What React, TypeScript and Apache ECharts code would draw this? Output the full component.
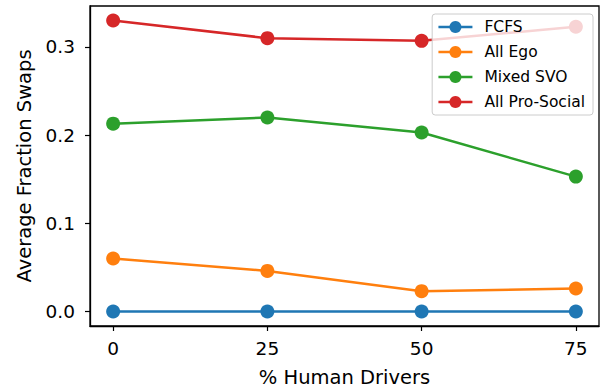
import React, { useEffect, useRef } from "react";
import * as echarts from "echarts";

const humanPct = [0, 25, 50, 75];
const xTicks = [0, 25, 50, 75];
const yTicks = [0.0, 0.1, 0.2, 0.3];
const fcfs = [0, 0, 0, 0];
const allEgo = [0.06, 0.046, 0.023, 0.026];
const mixedSvo = [0.213, 0.22, 0.203, 0.153];
const allProSocial = [0.33, 0.31, 0.307, 0.323];

const seriesDefs = [
  { name: "FCFS", data: fcfs, color: "#1f77b4" },
  { name: "All Ego", data: allEgo, color: "#ff7f0e" },
  { name: "Mixed SVO", data: mixedSvo, color: "#2ca02c" },
  { name: "All Pro-Social", data: allProSocial, color: "#d62728" },
];

const FONT = "DejaVu Sans";

export default function App() {
  const ref = useRef<HTMLDivElement>(null);
  useEffect(() => {
    if (!ref.current) return;
    const chart = echarts.init(ref.current, null, { renderer: "svg" });
    chart.setOption({
      animation: false,
      backgroundColor: "#fff",
      textStyle: { fontFamily: FONT },
      grid: {
        left: 90,
        right: 6,
        top: 6,
        bottom: 61,
        outerBoundsMode: "none",
        containLabel: false,
        show: true,
        borderColor: "#000",
        borderWidth: 1.3,
        backgroundColor: "transparent",
      },
      legend: {
        right: 12,
        top: 14,
        orient: "vertical",
        z: 10,
        itemGap: 9,
        itemWidth: 34,
        itemHeight: 15,
        padding: [5, 8, 5, 5],
        backgroundColor: "rgba(255,255,255,0.8)",
        borderColor: "#cccccc",
        borderWidth: 1,
        borderRadius: 3,
        lineStyle: { width: 2.5 },
        textStyle: { fontFamily: FONT, fontSize: 15.5, lineHeight: 15, color: "#000", padding: [0, 0, 0, 7] },
        data: seriesDefs.map((s) => s.name),
      },
      xAxis: {
        type: "value",
        min: -3.75,
        max: 78.75,
        name: "% Human Drivers",
        nameLocation: "middle",
        nameGap: 41,
        nameTextStyle: { fontFamily: FONT, fontSize: 19.5, color: "#000" },
        splitLine: { show: false },
        axisLine: { show: true, onZero: false, lineStyle: { color: "#000", width: 1.3 } },
        axisTick: { show: true, length: 5, inside: false, customValues: xTicks, lineStyle: { color: "#000", width: 1.2 } },
        axisLabel: { customValues: xTicks, margin: 13, fontFamily: FONT, fontSize: 18.5, color: "#000" },
      },
      yAxis: {
        type: "value",
        min: -0.0165,
        max: 0.3465,
        name: "Average Fraction Swaps",
        nameLocation: "middle",
        nameGap: 56,
        nameTextStyle: { fontFamily: FONT, fontSize: 19.5, color: "#000" },
        splitLine: { show: false },
        axisLine: { show: true, onZero: false, lineStyle: { color: "#000", width: 1.3 } },
        axisTick: { show: true, length: 5, inside: false, customValues: yTicks, lineStyle: { color: "#000", width: 1.2 } },
        axisLabel: {
          customValues: yTicks,
          margin: 15,
          fontFamily: FONT,
          fontSize: 18.5,
          color: "#000",
          formatter: (v: number) => v.toFixed(1),
        },
      },
      series: seriesDefs.map((s) => ({
        type: "line",
        name: s.name,
        data: humanPct.map((x, i) => [x, s.data[i]]),
        color: s.color,
        symbol: "circle",
        symbolSize: 14,
        lineStyle: { width: 2.5, color: s.color },
        itemStyle: { color: s.color },
        z: 2,
      })),
    });
    return () => chart.dispose();
  }, []);
  return <div ref={ref} style={{ width: 605, height: 387, position: "absolute", left: 0, top: 0 }} />;
}
